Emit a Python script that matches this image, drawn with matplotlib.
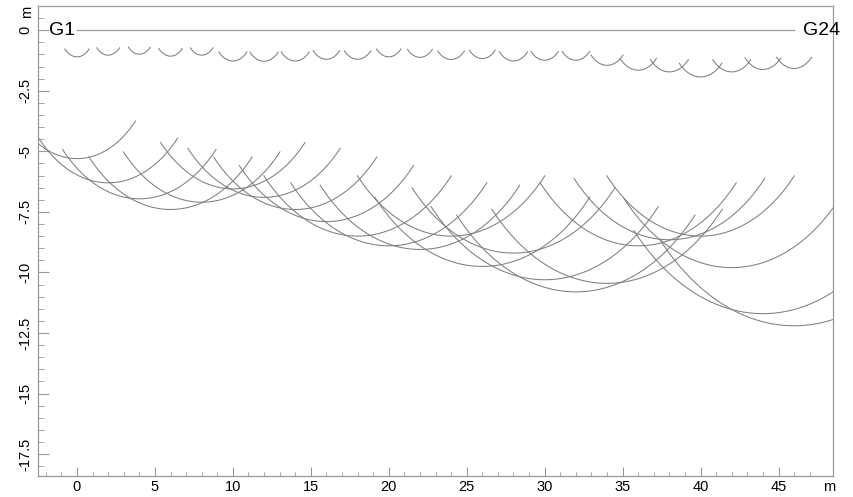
import numpy as np
import matplotlib.pyplot as plt

plt.rcParams['font.family'] = ['Liberation Sans', 'DejaVu Sans']
plt.rcParams['axes.unicode_minus'] = False

# geophone positions (m) and arc radii (m)
geophone_x = [0, 2, 4, 6, 8, 10, 12, 14, 16, 18, 20, 22,
              24, 26, 28, 30, 32, 34, 36, 38, 40, 42, 44, 46]
shallow_radius = [1.10, 1.03, 0.99, 1.07, 1.03, 1.27, 1.28, 1.27, 1.20, 1.20, 1.10, 1.12,
                  1.21, 1.17, 1.27, 1.24, 1.24, 1.45, 1.65, 1.72, 1.93, 1.72, 1.62, 1.58]
deep_radius = [5.3, 6.3, 6.96, 7.4, 7.1, 6.55, 6.9, 7.4, 7.9, 8.5, 8.9, 9.05,
               8.5, 9.75, 9.2, 10.3, 10.8, 10.45, 8.9, 8.65, 8.5, 9.8, 11.7, 12.2]
first_label = 'G1'
last_label = 'G24'
y_major = [0, -2.5, -5, -7.5, -10, -12.5, -15, -17.5]
x_major = [0, 5, 10, 15, 20, 25, 30, 35, 40, 45]

line_color = '#7f7f7f'
frame_color = '#999999'

fig = plt.figure(figsize=(8.54, 4.97), dpi=100)
ax = fig.add_axes([0.0445, 0.0423, 0.931, 0.9457])

# arcs: circle centred on each geophone, +-45 degrees around straight down
theta = np.radians(np.linspace(-45, 45, 120))
for gx, r in zip(geophone_x, shallow_radius):
    ax.plot(gx + r * np.sin(theta), -r * np.cos(theta), color=line_color, lw=0.75)
for gx, r in zip(geophone_x, deep_radius):
    ax.plot(gx + r * np.sin(theta), -r * np.cos(theta), color=line_color, lw=0.75)

# surface line with end labels
ax.plot([geophone_x[0], geophone_x[-1]], [0, 0], color=frame_color, lw=0.9)
ax.text(geophone_x[0] - 0.15, 0, first_label, ha='right', va='center', fontsize=14)
ax.text(geophone_x[-1] + 0.6, 0, last_label, ha='left', va='center', fontsize=14)

ax.set_xlim(-2.5, 48.5)
ax.set_ylim(-18.4, 1.0)

ax.set_xticks(x_major)
ax.set_xticks(np.arange(-2, 48, 1), minor=True)
ax.set_yticks(y_major)
ax.set_yticks(np.arange(-18, 1, 0.5), minor=True)
ax.set_yticklabels(['%g' % v for v in y_major], rotation=90, va='center')

ax.tick_params(axis='both', which='both', direction='in', color=frame_color, labelsize=10.5)
ax.tick_params(axis='x', which='major', length=6.5, pad=3)
ax.tick_params(axis='x', which='minor', length=3)
ax.tick_params(axis='y', which='major', length=8, pad=4)
ax.tick_params(axis='y', which='minor', length=4.5)

for s in ax.spines.values():
    s.set_color(frame_color)
    s.set_linewidth(0.9)

# unit labels
fig.text(27 / 854, 1 - 12 / 497, 'm', rotation=90, ha='center', va='center', fontsize=10.5)
fig.text(829 / 854, 1 - 487 / 497, 'm', ha='center', va='center', fontsize=10.5)

fig.savefig('out.png', dpi=100)
